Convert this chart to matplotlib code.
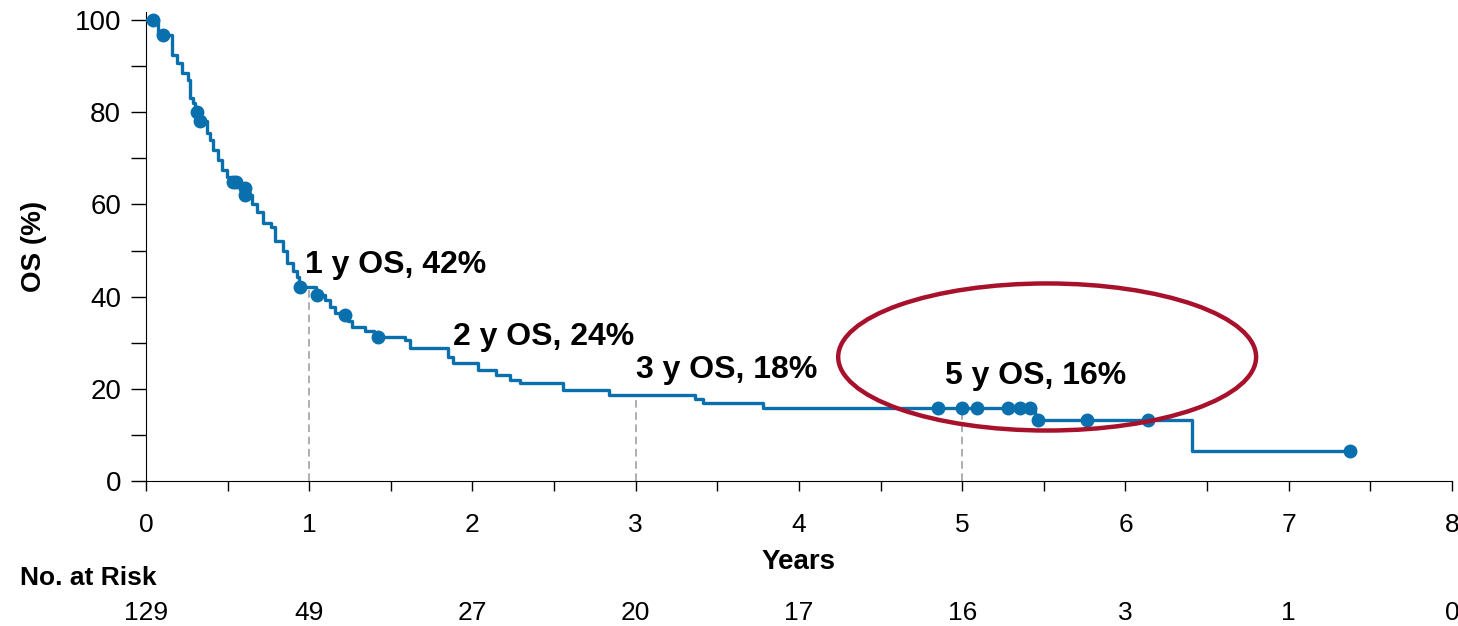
import matplotlib
matplotlib.use("Agg")
import matplotlib.pyplot as plt
from matplotlib.patches import Ellipse
from matplotlib.ticker import MultipleLocator
import numpy as np

plt.rcParams['font.family'] = ['Liberation Sans', 'DejaVu Sans']

# Kaplan-Meier steps (time in years, survival % after the step)
event_times = [0.0, 0.074, 0.159, 0.190, 0.221, 0.257, 0.270, 0.288, 0.300, 0.325,
               0.374, 0.392, 0.410, 0.441, 0.466, 0.496, 0.521, 0.576, 0.600, 0.649,
               0.680, 0.717, 0.766, 0.790, 0.839, 0.864, 0.900, 0.925, 0.937, 1.040,
               1.096, 1.127, 1.158, 1.237, 1.262, 1.342, 1.397, 1.587, 1.617, 1.850,
               1.881, 2.034, 2.144, 2.230, 2.291, 2.554, 2.836, 3.363, 3.412, 3.780,
               5.446, 6.407, 7.375]
survival = [100, 96.8, 92.5, 90.7, 88.5, 87.0, 83.0, 82.0, 80.1, 78.0,
            75.5, 74.0, 71.8, 69.6, 67.5, 66.0, 64.9, 63.5, 62.0, 60.0,
            58.4, 56.0, 55.0, 52.0, 50.0, 47.3, 45.5, 44.3, 42.1, 40.3,
            39.3, 37.8, 36.4, 34.8, 33.5, 32.5, 31.3, 30.6, 28.8, 27.0,
            25.5, 24.1, 23.0, 21.9, 21.2, 19.7, 18.6, 17.7, 17.0, 15.8,
            13.2, 6.6, 6.6]

censor_times = [0.043, 0.104, 0.312, 0.331, 0.533, 0.551, 0.606, 0.606, 0.943, 1.047,
                1.219, 1.421, 4.851, 4.998, 5.090, 5.280, 5.354, 5.415, 5.464, 5.764,
                6.138, 7.375]
censor_surv = [100, 96.8, 80.1, 78.0, 64.9, 64.9, 63.5, 62.0, 42.1, 40.3,
               36.0, 31.3, 15.8, 15.8, 15.8, 15.8, 15.8, 15.8, 13.2, 13.2,
               13.2, 6.6]

landmark_years = [1, 3, 5]
landmark_surv = [42.1, 18.6, 15.8]

annot_text = ["1 y OS, 42%", "2 y OS, 24%", "3 y OS, 18%", "5 y OS, 16%"]
annot_x = [0.974, 1.881, 3.0, 4.894]
annot_y = [45.1, 29.5, 22.3, 21.0]

risk_times = [0, 1, 2, 3, 4, 5, 6, 7, 8]
risk_counts = [129, 49, 27, 20, 17, 16, 3, 1, 0]

blue = '#0a6fad'
red = '#a8112b'

fig = plt.figure(figsize=(14.58, 6.26), dpi=100)
ax = fig.add_axes([146/1458, 1-481/626, (1452-146)/1458, (481-12)/626])

ax.step(event_times, survival, where='post', color=blue, lw=2.4, zorder=3)
ax.plot(censor_times, censor_surv, 'o', color=blue, ms=9, zorder=4, clip_on=False)

for x, s in zip(landmark_years, landmark_surv):
    ax.plot([x, x], [0, s], color='#999999', lw=1.1, ls=(0, (5, 3)), zorder=2)

for t, x, y in zip(annot_text, annot_x, annot_y):
    ax.text(x, y, t, fontsize=23, fontweight='bold', ha='left', va='baseline')

ell = Ellipse((5.52, 26.9), 2.56, 31.9, fill=False, edgecolor=red, lw=3.2, zorder=5)
ax.add_patch(ell)

ax.set_xlim(0, 8)
ax.set_ylim(0, 100 + 8/4.61)
ax.set_yticks([0, 20, 40, 60, 80, 100])
ax.yaxis.set_minor_locator(MultipleLocator(10))
ax.set_xticks(range(0, 9))
ax.xaxis.set_minor_locator(MultipleLocator(0.5))
ax.spines['top'].set_visible(False)
ax.spines['right'].set_visible(False)
ax.tick_params(axis='y', which='both', direction='out', length=11, width=1, labelsize=20, pad=7)
ax.tick_params(axis='x', which='both', direction='out', length=7, width=1, labelsize=19, pad=16)
ax.set_ylabel('OS (%)', fontsize=20, fontweight='bold', labelpad=20)
ax.set_xlabel('Years', fontsize=20, fontweight='bold', labelpad=9)

trans = ax.get_xaxis_transform()
for t, n in zip(risk_times, risk_counts):
    ax.text(t, -0.282, str(n), fontsize=19, ha='center', va='center', transform=trans)
fig.text(20/1458, 1-578/626, 'No. at Risk', fontsize=19, fontweight='bold', ha='left', va='center')

fig.savefig('out.png', dpi=100)
